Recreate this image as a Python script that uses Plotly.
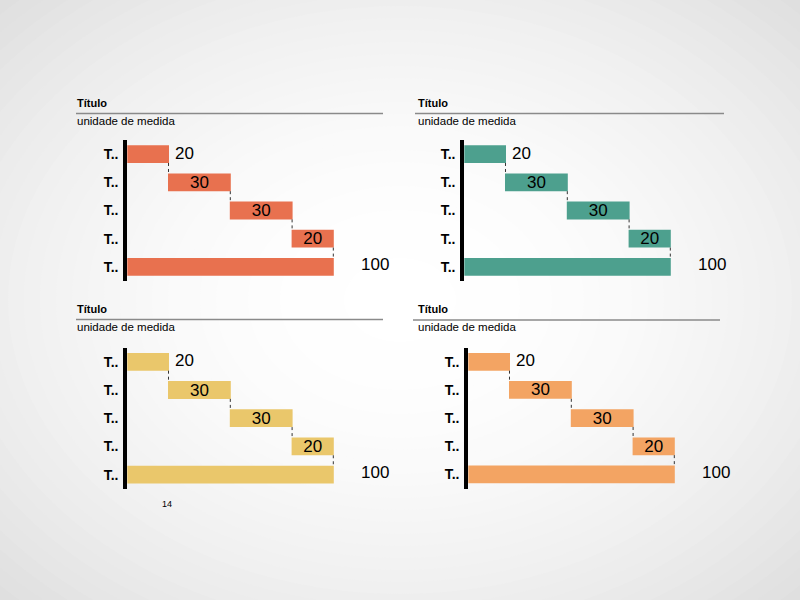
import plotly.graph_objects as go
import numpy as np

# ---- data ----
categories = ["A", "B", "C", "D", "Total"]
tick_labels = ["T..", "T..", "T..", "T..", "T.."]
measures = ["relative", "relative", "relative", "relative", "total"]
deltas_1 = [20, 30, 30, 20, 0]
deltas_2 = [20, 30, 30, 20, 0]
deltas_3 = [20, 30, 30, 20, 0]
deltas_4 = [20, 30, 30, 20, 0]
panel_titles = ["Título", "Título", "Título", "Título"]
panel_units = ["unidade de medida"] * 4
panel_colors = ["#E8714F", "#4DA08E", "#EAC76B", "#F3A463"]
page_number = "14"

W, H = 800, 600
FONT = "Liberation Sans, Arial, sans-serif"

def px(x):
    return x / W

def py(y):
    return 1 - y / H

SCALE = 2.06  # px per unit

panels = [
    dict(d=deltas_1, x0=127.3, yt=140, yb=281, tx=76, ty=102.5, lx0=76, lx1=383, ly=113.5, uy=121),
    dict(d=deltas_2, x0=464.3, yt=140, yb=281, tx=417, ty=102.5, lx0=415, lx1=724, ly=113.5, uy=121),
    dict(d=deltas_3, x0=127.3, yt=347.7, yb=488.7, tx=76, ty=308.5, lx0=76, lx1=383, ly=319.5, uy=326.5),
    dict(d=deltas_4, x0=468.3, yt=347.7, yb=488.5, tx=417, ty=308.5, lx0=413, lx1=720, ly=320, uy=327),
]

fig = go.Figure()
annotations = []
shapes = []

# background radial gradient (ellipses)
for d in np.arange(1.5, 0.0, -0.04):
    g = int(round(255 - 16 * d * d))
    g = max(0, min(255, g))
    shapes.append(dict(type="circle", xref="paper", yref="paper", layer="below",
                       x0=0.5 - d * 0.5, x1=0.5 + d * 0.5, y0=0.5 - d * 0.5, y1=0.5 + d * 0.5,
                       fillcolor=f"rgb({g},{g},{g})", line=dict(width=0)))

layout_axes = {}
for i, p in enumerate(panels):
    n = i + 1
    xa = "x" if n == 1 else f"x{n}"
    ya = "y" if n == 1 else f"y{n}"
    xkey = "xaxis" if n == 1 else f"xaxis{n}"
    ykey = "yaxis" if n == 1 else f"yaxis{n}"
    deltas = p["d"]
    cum = np.cumsum(deltas[:4])
    total = int(cum[-1])
    texts = [str(v) for v in deltas[:4]] + [str(total)]
    fig.add_trace(go.Waterfall(
        orientation="h", y=categories, x=deltas, measure=measures,
        xaxis=xa, yaxis=ya, width=0.63,
        increasing=dict(marker=dict(color=panel_colors[i])),
        decreasing=dict(marker=dict(color=panel_colors[i])),
        totals=dict(marker=dict(color=panel_colors[i])),
        connector=dict(mode="between", line=dict(color="#333333", width=1, dash="dot")),
        text=texts, textposition=["none", "inside", "inside", "inside", "none"],
        insidetextanchor="middle", constraintext="none", textangle=0,
        textfont=dict(family=FONT, size=17, color="black"),
        hoverinfo="skip", showlegend=False,
    ))
    right_px = p["x0"] + 280
    layout_axes[xkey] = dict(domain=[px(p["x0"]), px(right_px)], range=[0, 280 / SCALE],
                             visible=False, anchor=ya, fixedrange=True)
    layout_axes[ykey] = dict(domain=[py(p["yb"]), py(p["yt"])], anchor=xa,
                             type="category", categoryorder="array", categoryarray=categories,
                             range=[4.5, -0.5], tickvals=categories, ticktext=tick_labels,
                             showline=True, linewidth=4, linecolor="black", ticks="",
                             showgrid=False, zeroline=False, ticklabelstandoff=2, fixedrange=True,
                             tickfont=dict(family=FONT, size=14, color="black", weight="bold"))
    annotations.append(dict(x=float(cum[0]), y=categories[0], xref=xa, yref=ya, text=texts[0],
                            xanchor="left", yanchor="middle", xshift=4, yshift=1, showarrow=False,
                            font=dict(family=FONT, size=17, color="black")))
    annotations.append(dict(x=float(total), y=categories[4], xref=xa, yref=ya, text=texts[4],
                            xanchor="left", yanchor="middle", xshift=26, yshift=2, showarrow=False,
                            font=dict(family=FONT, size=17, color="black")))
    annotations.append(dict(x=px(p["tx"]), y=py(p["ty"]), xref="paper", yref="paper",
                            text="<b>" + panel_titles[i] + "</b>", xanchor="left", yanchor="middle",
                            showarrow=False, borderpad=0,
                            font=dict(family=FONT, size=11, color="black")))
    annotations.append(dict(x=px(p["tx"]), y=py(p["uy"]), xref="paper", yref="paper",
                            text=panel_units[i], xanchor="left", yanchor="middle",
                            showarrow=False, borderpad=0,
                            font=dict(family=FONT, size=11.5, color="black")))
    shapes.append(dict(type="line", xref="paper", yref="paper",
                       x0=px(p["lx0"]), x1=px(p["lx1"]), y0=py(p["ly"]), y1=py(p["ly"]),
                       line=dict(color="#8a8a8a", width=1.5)))

annotations.append(dict(x=px(167), y=py(504), xref="paper", yref="paper", text=page_number,
                        xanchor="center", yanchor="middle", showarrow=False,
                        font=dict(family=FONT, size=9, color="black")))

fig.update_layout(
    width=W, height=H, margin=dict(l=0, r=0, t=0, b=0),
    paper_bgcolor="#dcdcdc", plot_bgcolor="rgba(0,0,0,0)",
    annotations=annotations, shapes=shapes, **layout_axes,
)

fig.write_html("out.html", config={"displayModeBar": False},
               post_script="document.body.style.margin='0';")
